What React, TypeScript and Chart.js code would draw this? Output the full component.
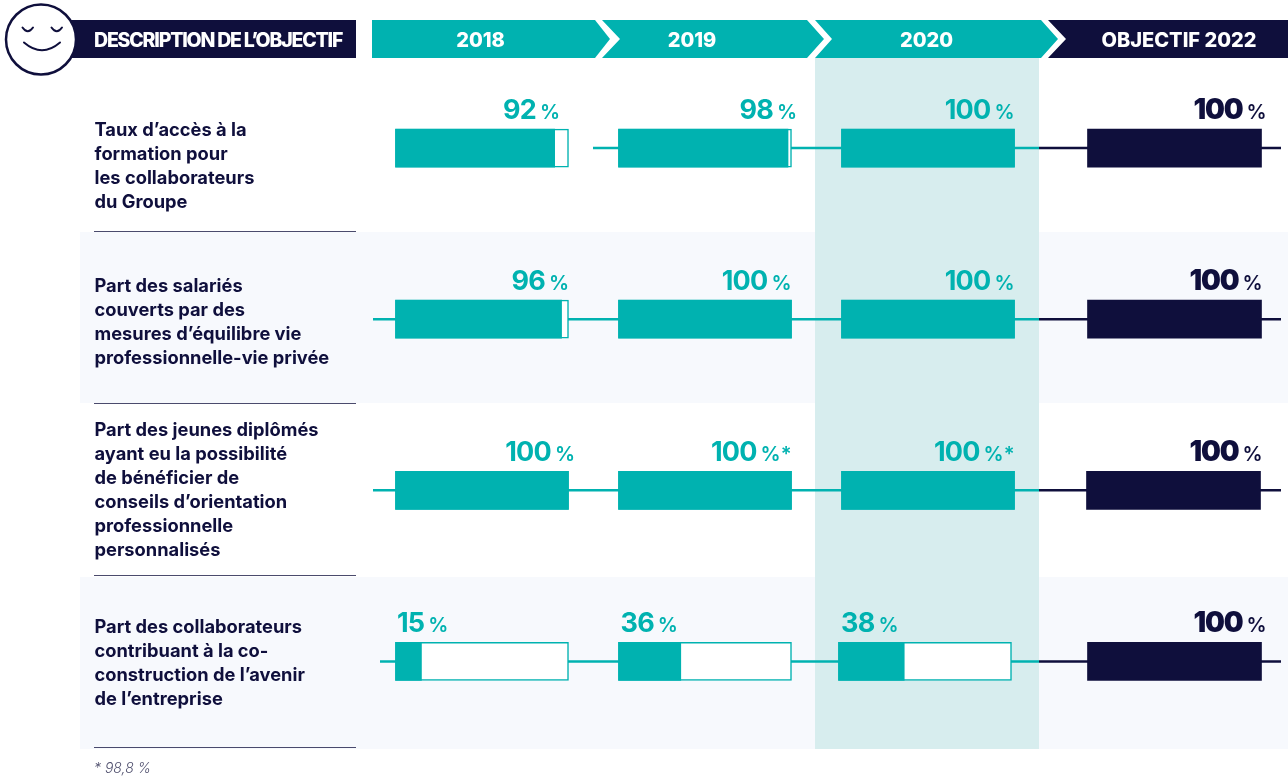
import React, { useEffect, useRef } from "react";
import { Chart, registerables } from "chart.js";

Chart.register(...registerables);

const categories: string[][] = [
  ["Taux d’accès à la", "formation pour", "les collaborateurs", "du Groupe"],
  ["Part des salariés", "couverts par des", "mesures d’équilibre vie", "professionnelle-vie privée"],
  ["Part des jeunes diplômés", "ayant eu la possibilité", "de bénéficier de", "conseils d’orientation", "professionnelle", "personnalisés"],
  ["Part des collaborateurs", "contribuant à la co-", "construction de l’avenir", "de l’entreprise"],
];
const values2018 = [92, 96, 100, 15];
const values2019 = [98, 100, 100, 36];
const values2020 = [100, 100, 100, 38];
const values2022 = [100, 100, 100, 100];
const suffix2019 = ["", "", "*", ""];
const suffix2020 = ["", "", "*", ""];
const headerLabels = ["2018", "2019", "2020", "OBJECTIF 2022"];
const descriptionHeader = "DESCRIPTION DE L’OBJECTIF";
const footnote = "* 98,8 %";

const W = 1288;
const H = 778;
const TEAL = "#00b2b0";
const NAVY = "#0f0f3c";
const ROW_BG = "#f7f9fd";
const COL_BG = "#d7edee";
const FONT = "Inter, 'Noto Sans', sans-serif";

type Panel = {
  id: string;
  values: number[];
  suffix?: string[];
  color: string;
  track: boolean;
  p0: number;
  p100: number;
  rows: number[];
  labels: [number, CanvasTextAlign][];
};

const panels: Panel[] = [
  { id: "x2018", values: values2018, color: TEAL, track: true, p0: 395.5, p100: 568.5, rows: [0, 1, 2, 3],
    labels: [[560, "right"], [569, "right"], [575, "right"], [397, "left"]] },
  { id: "x2019", values: values2019, suffix: suffix2019, color: TEAL, track: true, p0: 618.5, p100: 791.5, rows: [0, 1, 2, 3],
    labels: [[797, "right"], [791.5, "right"], [791.5, "right"], [620.5, "left"]] },
  { id: "x2020", values: values2020, suffix: suffix2020, color: TEAL, track: true, p0: 841.5, p100: 1014.5, rows: [0, 1, 2],
    labels: [[1014.5, "right"], [1014.5, "right"], [1014.5, "right"], [841, "left"]] },
  { id: "x2020b", values: values2020, color: TEAL, track: true, p0: 838.5, p100: 1011.5, rows: [3],
    labels: [[0, "left"], [0, "left"], [0, "left"], [841, "left"]] },
  { id: "x2022", values: values2022, color: NAVY, track: false, p0: 1087.5, p100: 1261.5, rows: [0, 1, 3],
    labels: [[1266.5, "right"], [1262.5, "right"], [0, "right"], [1266.5, "right"]] },
  { id: "x2022b", values: values2022, color: NAVY, track: false, p0: 1086.5, p100: 1260.5, rows: [2],
    labels: [[0, "right"], [0, "right"], [1262.5, "right"], [0, "right"]] },
];

const lineStarts = [593, 373, 373, 380];
const labelShift = [18, 3, 0, 2];
const separators = [231, 403, 575, 747];
const stripes = [[232, 403], [577, 749]];

const mask = (vals: (number | null)[], rows: number[]) => vals.map((v, i) => (rows.includes(i) ? v : null));

const datasets: any[] = [];
const scales: any = {
  y: {
    type: "category",
    labels: categories.map((c) => c.join(" ")),
    display: false,
    grid: { display: false },
  },
};
panels.forEach((p) => {
  const k = (p.p100 - p.p0) / 100;
  scales[p.id] = { type: "linear", axis: "x", display: false, min: (0 - p.p0) / k, max: (W - p.p0) / k, grid: { display: false } };
  datasets.push({
    label: p.id,
    xAxisID: p.id,
    yAxisID: "y",
    data: mask(p.values, p.rows),
    backgroundColor: p.color,
    borderWidth: 0,
    barThickness: 38,
    grouped: false,
    order: 1,
  });
  if (p.track) {
    datasets.push({
      label: p.id + " track",
      xAxisID: p.id,
      yAxisID: "y",
      data: mask([100, 100, 100, 100], p.rows),
      backgroundColor: "#ffffff",
      borderColor: TEAL,
      borderWidth: 1.5,
      borderSkipped: false,
      barThickness: 38,
      grouped: false,
      order: 2,
    });
  }
});

function chevron(ctx: CanvasRenderingContext2D, x0: number, notch: number, topRight: number, tip: number, color: string) {
  ctx.fillStyle = color;
  ctx.beginPath();
  ctx.moveTo(x0, 20);
  ctx.lineTo(topRight, 20);
  ctx.lineTo(tip, 39);
  ctx.lineTo(topRight, 58);
  ctx.lineTo(x0, 58);
  if (notch > x0) ctx.lineTo(notch, 39);
  ctx.closePath();
  ctx.fill();
}

const backdrop = {
  id: "backdrop",
  beforeDatasetsDraw(chart: any) {
    const { ctx } = chart;
    const y = chart.scales.y;
    ctx.save();
    ctx.fillStyle = ROW_BG;
    stripes.forEach(([t, b]) => ctx.fillRect(80, t, W - 80, b - t));
    ctx.fillStyle = COL_BG;
    ctx.fillRect(815, 58, 224, 691);
    ctx.strokeStyle = NAVY;
    ctx.lineWidth = 1;
    ctx.globalAlpha = 0.75;
    separators.forEach((b) => {
      ctx.beginPath();
      ctx.moveTo(94, b + 0.5);
      ctx.lineTo(356, b + 0.5);
      ctx.stroke();
    });
    ctx.globalAlpha = 1;
    ctx.lineWidth = 2.5;
    categories.forEach((_, i) => {
      const c = y.getPixelForValue(i);
      ctx.strokeStyle = TEAL;
      ctx.beginPath();
      ctx.moveTo(lineStarts[i], c);
      ctx.lineTo(1039, c);
      ctx.stroke();
      ctx.strokeStyle = NAVY;
      ctx.beginPath();
      ctx.moveTo(1039, c);
      ctx.lineTo(1281, c);
      ctx.stroke();
    });
    ctx.restore();
  },
  afterDatasetsDraw(chart: any) {
    const { ctx } = chart;
    const y = chart.scales.y;
    ctx.save();
    ctx.textBaseline = "alphabetic";
    ctx.fillStyle = NAVY;
    ctx.fillRect(70, 20, 286, 38);
    chevron(ctx, 372, 0, 595, 610, TEAL);
    chevron(ctx, 602, 620, 807, 824, TEAL);
    chevron(ctx, 815, 832, 1041, 1058, TEAL);
    chevron(ctx, 1048, 1066, W, W, NAVY);
    ctx.strokeStyle = NAVY;
    ctx.fillStyle = "#fff";
    ctx.lineWidth = 2.5;
    ctx.lineCap = "round";
    ctx.beginPath();
    ctx.arc(41, 39.5, 35, 0, Math.PI * 2);
    ctx.fill();
    ctx.stroke();
    ctx.lineWidth = 2;
    [[22.5, 33], [51.5, 62]].forEach(([a, b]) => {
      ctx.beginPath();
      ctx.moveTo(a, 27.5);
      ctx.quadraticCurveTo((a + b) / 2, 35, b, 27.5);
      ctx.stroke();
    });
    ctx.beginPath();
    ctx.moveTo(24, 42.5);
    ctx.quadraticCurveTo(42, 58, 60, 42.5);
    ctx.stroke();
    ctx.fillStyle = "#fff";
    ctx.textAlign = "left";
    ctx.font = `800 19.5px ${FONT}`;
    (ctx as any).letterSpacing = "-1.2px";
    ctx.fillText(descriptionHeader, 94, 46.5);
    (ctx as any).letterSpacing = "0px";
    ctx.font = `800 20px ${FONT}`;
    ctx.textAlign = "center";
    [480.5, 692, 926.5, 1179].forEach((cx, i) => ctx.fillText(headerLabels[i], cx, 47));
    ctx.textAlign = "left";
    ctx.fillStyle = NAVY;
    ctx.font = `700 18.3px ${FONT}`;
    categories.forEach((lines, i) => {
      const c = y.getPixelForValue(i) + labelShift[i];
      lines.forEach((ln, j) => {
        ctx.fillText(ln, 94.5, c + (j - (lines.length - 1) / 2) * 24 + 6);
      });
    });
    panels.forEach((p) => {
      const navy = p.color === NAVY;
      const numFont = navy ? `900 28px ${FONT}` : `700 27px ${FONT}`;
      const numSpacing = navy ? "-1.2px" : "-0.8px";
      const pctFont = `600 20px ${FONT}`;
      p.rows.forEach((r) => {
        const [ax, al] = p.labels[r];
        const num = String(p.values[r]);
        const pct = "%" + (p.suffix ? p.suffix[r] : "");
        const by = y.getPixelForValue(r) - 29.5;
        const gap = 4;
        ctx.fillStyle = p.color;
        ctx.font = numFont;
        (ctx as any).letterSpacing = numSpacing;
        const wn = ctx.measureText(num).width;
        ctx.font = pctFont;
        (ctx as any).letterSpacing = "0px";
        const wp = ctx.measureText(pct).width;
        const x0 = al === "right" ? ax - wn - wp - gap : ax;
        ctx.textAlign = "left";
        ctx.font = numFont;
        (ctx as any).letterSpacing = numSpacing;
        ctx.fillText(num, x0, by);
        ctx.font = pctFont;
        (ctx as any).letterSpacing = "0px";
        ctx.fillText(pct, x0 + wn + gap, by);
      });
    });
    ctx.fillStyle = "#50506e";
    ctx.font = `italic 300 14px ${FONT}`;
    ctx.textAlign = "left";
    ctx.fillText(footnote, 94, 773);
    ctx.restore();
  },
};

export default function App() {
  const ref = useRef<HTMLCanvasElement>(null);
  useEffect(() => {
    const chart = new Chart(ref.current!, {
      type: "bar",
      data: { labels: categories.map((c) => c.join(" ")), datasets },
      options: {
        indexAxis: "y",
        animation: false,
        responsive: false,
        layout: { padding: { top: 62.5, bottom: 31, left: 0, right: 0 } },
        plugins: { legend: { display: false }, tooltip: { enabled: false }, title: { display: false } },
        scales,
      },
      plugins: [backdrop],
    } as any);
    return () => chart.destroy();
  }, []);
  return (
    <div style={{ position: "fixed", left: 0, top: 0, width: W, height: H, background: "#fff" }}>
      <canvas ref={ref} width={W} height={H} style={{ display: "block" }} />
    </div>
  );
}
